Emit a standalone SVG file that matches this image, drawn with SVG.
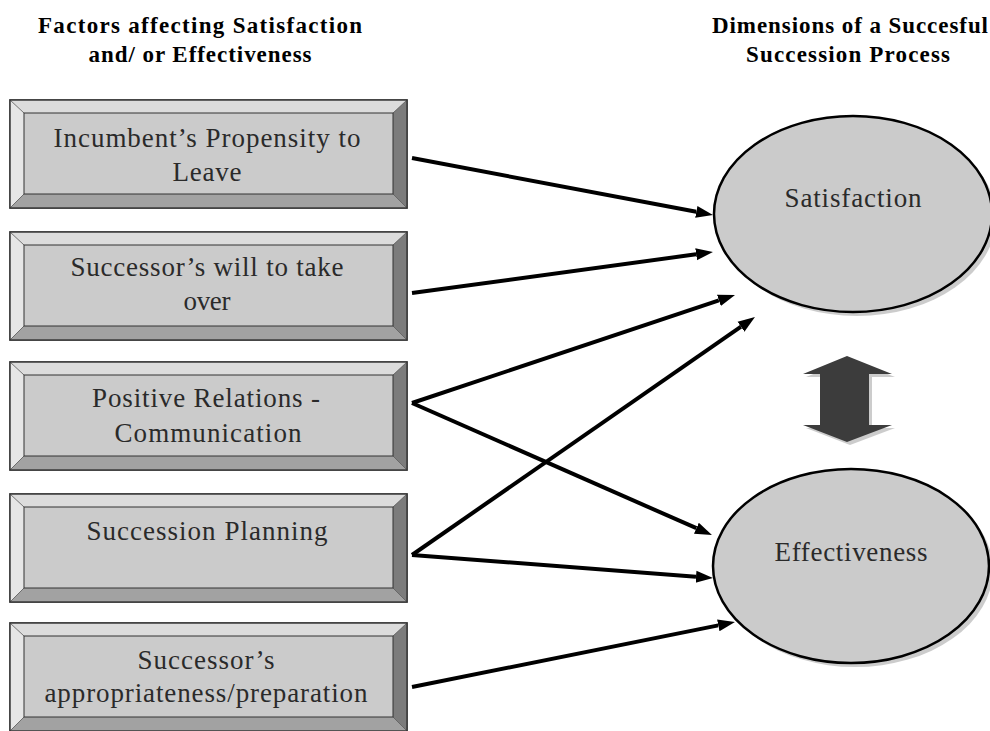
<svg xmlns="http://www.w3.org/2000/svg" width="990" height="731" viewBox="0 0 990 731">
<defs>
<style>
.hdr{font-family:"Liberation Serif","DejaVu Serif",serif;font-weight:bold;font-size:23px;fill:#000;text-anchor:middle}
.lbl{font-family:"Liberation Serif","DejaVu Serif",serif;font-size:27px;fill:#2a2a2a;text-anchor:middle}
.outer{fill:none;stroke:#3a3a3a;stroke-width:1.5}
.face{fill:#cbcbcb;stroke:#333;stroke-width:1}
.btop{fill:#dcdcdc}
.bleft{fill:#e6e6e6}
.bright{fill:#7c7c7c}
.bbot{fill:#a2a2a2}
.bedge{fill:none;stroke:#555;stroke-width:0.8}
.ell{fill:#cbcbcb;stroke:#000;stroke-width:2.5}
.shadow{fill:#9a9a9a;opacity:0.5}
.conn{stroke:#000;stroke-width:4;fill:none;marker-end:url(#ah)}
</style>
<marker id="ah" markerUnits="userSpaceOnUse" markerWidth="17" markerHeight="14" refX="0" refY="7" orient="auto">
<path d="M0,1 L17,7 L0,13 z" fill="#000"/>
</marker>
<g id="box">
<rect class="outer" x="10" y="0" width="397" height="108"/>
<polygon class="btop" points="10,0 407,0 393,13 24,13"/>
<polygon class="bleft" points="10,0 24,13 24,94 10,108"/>
<polygon class="bright" points="407,0 407,108 393,94 393,13"/>
<polygon class="bbot" points="10,108 24,94 393,94 407,108"/>
<path class="bedge" d="M10,0 L24,13 M407,0 L393,13 M10,108 L24,94 M407,108 L393,94"/>
<rect class="face" x="24" y="13" width="369" height="81"/>
<rect class="outer" x="10" y="0" width="397" height="108"/>
</g>
</defs>
<rect width="990" height="731" fill="#fff"/>

<g id="headers">
<text class="hdr" x="200" y="33" textLength="324" lengthAdjust="spacing">Factors affecting Satisfaction</text>
<text class="hdr" x="200" y="62" textLength="223" lengthAdjust="spacing">and/ or Effectiveness</text>
<text class="hdr" x="850" y="33" textLength="276" lengthAdjust="spacing">Dimensions of a Succesful</text>
<text class="hdr" x="848" y="62" textLength="204" lengthAdjust="spacing">Succession Process</text>
</g>

<g id="node-incumbent">
<use href="#box" y="100"/>
<text class="lbl" x="207" y="147" textLength="307" lengthAdjust="spacing">Incumbent’s Propensity to</text>
<text class="lbl" x="207" y="181" textLength="69" lengthAdjust="spacing">Leave</text>
</g>
<g id="node-successor-will">
<use href="#box" y="232"/>
<text class="lbl" x="207" y="276" textLength="273" lengthAdjust="spacing">Successor’s will to take</text>
<text class="lbl" x="207" y="310" textLength="47" lengthAdjust="spacing">over</text>
</g>
<g id="node-relations">
<use href="#box" y="362"/>
<text class="lbl" x="206" y="407" textLength="228" lengthAdjust="spacing">Positive Relations -</text>
<text class="lbl" x="208" y="442" textLength="187" lengthAdjust="spacing">Communication</text>
</g>
<g id="node-planning">
<use href="#box" y="494"/>
<text class="lbl" x="207" y="540" textLength="241" lengthAdjust="spacing">Succession Planning</text>
</g>
<g id="node-appropriateness">
<use href="#box" y="623"/>
<text class="lbl" x="206" y="669" textLength="137" lengthAdjust="spacing">Successor’s</text>
<text class="lbl" x="206" y="702" textLength="323" lengthAdjust="spacing">appropriateness/preparation</text>
</g>

<g id="node-satisfaction">
<ellipse class="shadow" cx="857" cy="218" rx="139" ry="98"/>
<ellipse class="ell" cx="853" cy="214" rx="139" ry="98"/>
<text class="lbl" x="853" y="207" textLength="137" lengthAdjust="spacing">Satisfaction</text>
</g>
<g id="node-effectiveness">
<ellipse class="shadow" cx="855" cy="570" rx="138" ry="97"/>
<ellipse class="ell" cx="851" cy="566" rx="138" ry="97"/>
<text class="lbl" x="851" y="561" textLength="153" lengthAdjust="spacing">Effectiveness</text>
</g>

<g id="node-double-arrow">
<polygon points="850,359 895,377 872,377 872,428 895,428 850,445 806,428 823,428 823,377 806,377" fill="#9a9a9a" opacity="0.5"/>
<polygon points="847,356 892,374 869,374 869,425 892,425 847,442 803,425 820,425 820,374 803,374" fill="#3c3c3c"/>
</g>

<g id="connectors">
<line class="conn" x1="412" y1="158" x2="696.3" y2="211.8"/>
<line class="conn" x1="412" y1="293" x2="696.1" y2="254.3"/>
<line class="conn" x1="412" y1="403" x2="718.9" y2="300.4"/>
<line class="conn" x1="412" y1="555" x2="741.0" y2="326.7"/>
<line class="conn" x1="412" y1="403" x2="696.4" y2="528.2"/>
<line class="conn" x1="412" y1="555" x2="696.0" y2="576.7"/>
<line class="conn" x1="412" y1="687" x2="718.3" y2="625.4"/>
</g>
</svg>
